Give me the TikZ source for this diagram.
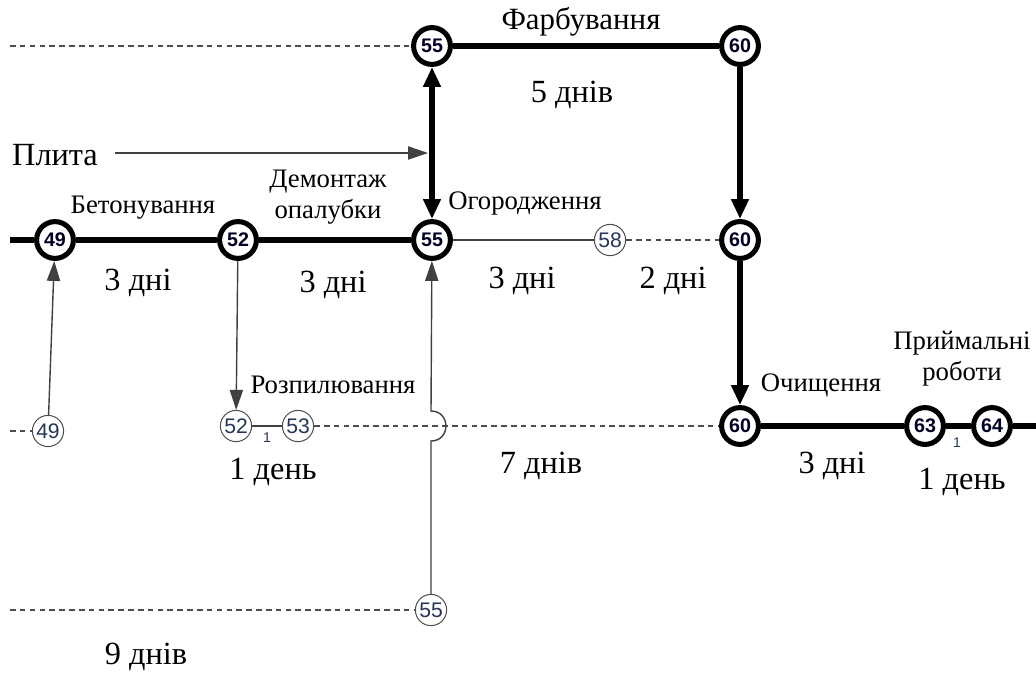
\documentclass[tikz,border=0pt]{standalone}
\usepackage{fontspec}
\setmainfont{Liberation Serif}
\newfontfamily\numfont{Liberation Sans}
\usetikzlibrary{arrows.meta}
\definecolor{numblue}{RGB}{38,52,88}

\begin{document}
\begin{tikzpicture}[
  x=0.025cm, y=-0.025cm,
  font=\fontsize{19}{22}\selectfont,
  event/.style={circle, draw, line width=3.6pt, fill=white, inner sep=0pt,
                minimum size=0.92cm, text=black!85!blue,
                font=\numfont\bfseries\fontsize{14}{14}\selectfont},
  minor/.style={circle, draw=black!70, line width=0.7pt, fill=white,
                inner sep=0pt, minimum size=0.78cm, text=numblue,
                font=\numfont\fontsize{15}{15}\selectfont},
  crit/.style={draw, line width=4.3pt},
  line/.style={draw=black!75, line width=1pt},
  dummy/.style={draw=black!70, line width=0.8pt, dash pattern=on 4pt off 3pt},
  bigarrow/.style={crit, -{Triangle[length=0.5cm, width=0.42cm]}},
  smallarrow/.style={line, -{Triangle[length=0.5cm, width=0.33cm]}},
  task/.style={align=center, font=\fontsize{19}{22}\selectfont},
  dur/.style={font=\fontsize{23}{26}\selectfont},
  tiny/.style={text=numblue, font=\numfont\fontsize{10}{10}\selectfont}
]
\useasboundingbox (0,0) rectangle (1036,673);

% loose ends at the page edges
\coordinate (topin) at (10,46);
\coordinate (midin) at (10,240);
\coordinate (lowin) at (10,431);
\coordinate (botin) at (10,610);
\coordinate (out) at (1036,426);
\coordinate (slabS) at (115,153);
\coordinate (slabE) at (428,153);
\coordinate (hopB) at (431,441);
\coordinate (hopT) at (431,411);

% critical events
\node[event] (t55) at (432,46) {55};
\node[event] (t60) at (740,46) {60};
\node[event] (e49) at (55,240) {49};
\node[event] (e52) at (238,240) {52};
\node[event] (e55) at (432,240) {55};
\node[event] (e60) at (740,240) {60};
\node[event] (c60) at (740,426) {60};
\node[event] (c63) at (925,426) {63};
\node[event] (c64) at (992,426) {64};

% side events
\node[minor] (s58) at (610,240) {58};
\node[minor] (s49) at (48,431) {49};
\node[minor] (s52) at (236,426) {52};
\node[minor] (s53) at (298,426) {53};
\node[minor] (s55) at (431,610) {55};

% critical chain
\draw[crit] (midin) -- (e49);
\foreach \a/\b in {e49/e52, e52/e55, t55/t60, c60/c63, c63/c64}
  \draw[crit] (\a) -- (\b);
\draw[crit] (c64) -- (out);
\draw[crit, {Triangle[length=0.5cm, width=0.42cm]}-{Triangle[length=0.5cm, width=0.42cm]}] (e55) -- (t55);
\draw[bigarrow] (t60) -- (e60);
\draw[bigarrow] (e60) -- (c60);

% side links
\draw[line] (e55) -- (s58);
\draw[line] (s52) -- (s53);
\draw[smallarrow] (s49) -- (e49);
\draw[smallarrow] (e52) -- (s52);
\draw[smallarrow] (slabS) -- (slabE);
\draw[smallarrow] (s55) -- (hopB) to[out=0, in=0, looseness=1.7] (hopT) -- (e55);

% dummy links
\draw[dummy] (topin) -- (t55);
\draw[dummy] (s58) -- (e60);
\draw[dummy] (lowin) -- (s49);
\draw[dummy] (s53) -- (c60);
\draw[dummy] (botin) -- (s55);

% activity names
\node[task, font=\fontsize{22}{25}\selectfont] (paint) at (581,22) {Фарбування};
\node[font=\fontsize{23}{26}\selectfont] (slab) at (55,155) {Плита};
\node[task] (pour) at (143,208) {Бетонування};
\node[task] (strip) at (328,197) {Демонтаж\\опалубки};
\node[task] (fence) at (525,203) {Огородження};
\node[task] (saw) at (333,385) {Розпилювання};
\node[task] (clean) at (821,385) {Очищення};
\node[task] (accept) at (962,359) {Приймальні\\роботи};

% durations
\node[dur] (d1) at (572,95) {5 днів};
\node[dur] (d2) at (138,283) {3 дні};
\node[dur] (d3) at (333,285) {3 дні};
\node[dur] (d4) at (522,281) {3 дні};
\node[dur] (d5) at (673,281) {2 дні};
\node[dur] (d6) at (273,472) {1 день};
\node[dur] (d7) at (541,466) {7 днів};
\node[dur] (d8) at (832,466) {3 дні};
\node[dur] (d9) at (962,482) {1 день};
\node[dur] (d10) at (146,657) {9 днів};
\node[tiny] (n1) at (267,438) {1};
\node[tiny] (n2) at (957,443) {1};
\end{tikzpicture}
\end{document}
